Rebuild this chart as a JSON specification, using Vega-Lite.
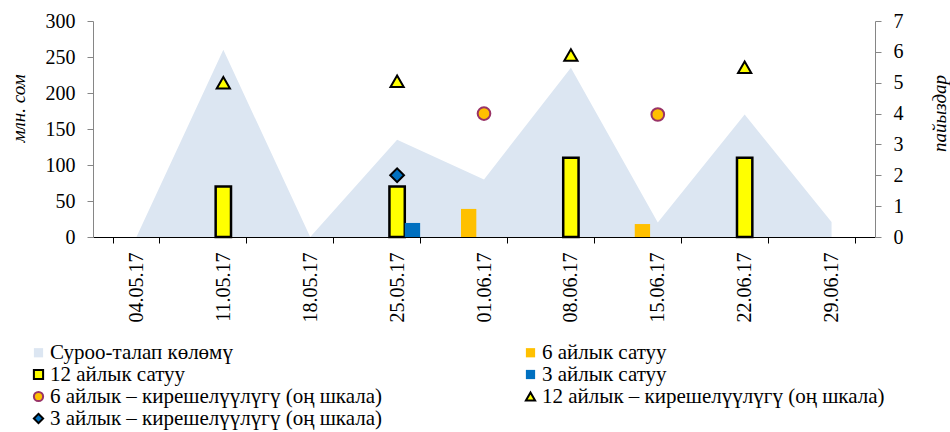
{
  "$schema": "https://vega.github.io/schema/vega-lite/v6.json",
  "width": 782,
  "height": 216,
  "autosize": {"type": "none"},
  "padding": {"left": 93, "top": 21, "right": 75, "bottom": 195},
  "config": {
    "font": "Liberation Serif",
    "view": {"stroke": null},
    "axis": {"grid": false, "labelColor": "#000000", "titleColor": "#000000", "labelFont": "Liberation Serif", "titleFont": "Liberation Serif"},
    "legend": {"labelFont": "Liberation Serif"}
  },
  "data": {
    "values": [
      {"date": "04.05.17", "series": "Суроо-талап көлөмү", "value": 0},
      {"date": "11.05.17", "series": "Суроо-талап көлөмү", "value": 260},
      {"date": "18.05.17", "series": "Суроо-талап көлөмү", "value": 0},
      {"date": "25.05.17", "series": "Суроо-талап көлөмү", "value": 135},
      {"date": "01.06.17", "series": "Суроо-талап көлөмү", "value": 80},
      {"date": "08.06.17", "series": "Суроо-талап көлөмү", "value": 235},
      {"date": "15.06.17", "series": "Суроо-талап көлөмү", "value": 20},
      {"date": "22.06.17", "series": "Суроо-талап көлөмү", "value": 170},
      {"date": "29.06.17", "series": "Суроо-талап көлөмү", "value": 21},
      {"date": "11.05.17", "series": "12 айлык сатуу", "value": 70},
      {"date": "25.05.17", "series": "12 айлык сатуу", "value": 70},
      {"date": "08.06.17", "series": "12 айлык сатуу", "value": 110},
      {"date": "22.06.17", "series": "12 айлык сатуу", "value": 110},
      {"date": "01.06.17", "series": "6 айлык сатуу", "value": 39},
      {"date": "15.06.17", "series": "6 айлык сатуу", "value": 18},
      {"date": "25.05.17", "series": "3 айлык сатуу", "value": 19.5},
      {"date": "11.05.17", "series": "12 айлык – кирешелүүлүгү (оң шкала)", "value": 5.0},
      {"date": "25.05.17", "series": "12 айлык – кирешелүүлүгү (оң шкала)", "value": 5.05},
      {"date": "08.06.17", "series": "12 айлык – кирешелүүлүгү (оң шкала)", "value": 5.9},
      {"date": "22.06.17", "series": "12 айлык – кирешелүүлүгү (оң шкала)", "value": 5.5},
      {"date": "01.06.17", "series": "6 айлык – кирешелүүлүгү (оң шкала)", "value": 4.0},
      {"date": "15.06.17", "series": "6 айлык – кирешелүүлүгү (оң шкала)", "value": 3.97},
      {"date": "25.05.17", "series": "3 айлык – кирешелүүлүгү (оң шкала)", "value": 2.0}
    ]
  },
  "encoding": {
    "x": {
      "field": "date",
      "type": "ordinal",
      "sort": null,
      "scale": {"paddingInner": 0.47, "paddingOuter": 0.235},
      "axis": {
        "title": null,
        "labelFont": "Liberation Serif",
        "labelAngle": -90,
        "labelAlign": "right",
        "labelBaseline": "middle",
        "labelFontSize": 20,
        "labelPadding": 9,
        "tickBand": "extent",
        "tickSize": 6,
        "tickColor": "#000000",
        "domainColor": "#000000",
        "domainWidth": 1
      }
    },
    "fill": {
      "field": "series",
      "type": "nominal",
      "scale": {
        "domain": ["Суроо-талап көлөмү", "12 айлык сатуу", "6 айлык – кирешелүүлүгү (оң шкала)", "3 айлык – кирешелүүлүгү (оң шкала)", "6 айлык сатуу", "3 айлык сатуу", "12 айлык – кирешелүүлүгү (оң шкала)"],
        "range": ["#DCE6F2", "#FFFF00", "#FFC000", "#0070C0", "#FFC000", "#0070C0", "#FFFF00"]
      },
      "legend": {
        "title": null,
        "orient": "none",
        "legendX": -65,
        "legendY": 321,
        "columns": 2,
        "columnPadding": 137,
        "rowPadding": 0,
        "labelFont": "Liberation Serif",
        "labelFontSize": 21,
        "labelLimit": 0,
        "labelOffset": 1,
        "symbolSize": 85,
        "symbolStrokeWidth": 2,
        "symbolOpacity": 1,
        "padding": 0
      }
    },
    "stroke": {
      "field": "series",
      "type": "nominal",
      "scale": {
        "domain": ["Суроо-талап көлөмү", "12 айлык сатуу", "6 айлык – кирешелүүлүгү (оң шкала)", "3 айлык – кирешелүүлүгү (оң шкала)", "6 айлык сатуу", "3 айлык сатуу", "12 айлык – кирешелүүлүгү (оң шкала)"],
        "range": ["transparent", "#000000", "#993366", "#000000", "transparent", "transparent", "#000000"]
      },
      "legend": {
        "title": null,
        "orient": "none",
        "legendX": -65,
        "legendY": 321,
        "columns": 2,
        "columnPadding": 137,
        "rowPadding": 0,
        "labelFont": "Liberation Serif",
        "labelFontSize": 21,
        "labelLimit": 0,
        "labelOffset": 1,
        "symbolSize": 85,
        "symbolStrokeWidth": 2,
        "symbolOpacity": 1,
        "padding": 0
      }
    }
  },
  "layer": [
    {
      "transform": [{"filter": "datum.series === 'Суроо-талап көлөмү'"}],
      "mark": {"type": "area", "opacity": 1, "strokeWidth": 0},
      "encoding": {
        "x": {"field": "date", "type": "ordinal", "sort": null, "bandPosition": 0.5},
        "y": {
          "field": "value",
          "type": "quantitative",
          "scale": {"domain": [0, 300], "nice": false},
          "axis": {
            "orient": "left",
            "values": [0, 50, 100, 150, 200, 250, 300],
            "title": "млн. сом",
            "labelFont": "Liberation Serif",
            "titleFont": "Liberation Serif",
            "titleFontStyle": "italic",
            "titleFontWeight": "normal",
            "titleFontSize": 19,
            "titleAngle": 270,
            "titleAlign": "center",
            "titleBaseline": "middle",
            "titleX": -75,
            "titleY": 87,
            "labelFontSize": 20,
            "labelPadding": 12,
            "tickSize": 6,
            "tickColor": "#868686",
            "domainColor": "#868686"
          }
        }
      }
    },
    {
      "transform": [{"filter": "indexof(datum.series, 'сатуу') >= 0"}],
      "mark": {"type": "bar", "strokeWidth": 2.5, "opacity": 1},
      "encoding": {
        "xOffset": {
          "field": "series",
          "type": "nominal",
          "scale": {"domain": ["6 айлык сатуу", "12 айлык сатуу", "3 айлык сатуу"], "paddingInner": 0, "paddingOuter": 0}
        },
        "y": {
          "field": "value",
          "type": "quantitative",
          "scale": {"domain": [0, 300], "nice": false},
          "axis": null
        }
      }
    },
    {
      "transform": [{"filter": "indexof(datum.series, 'кирешелүүлүгү') >= 0"}],
      "mark": {"type": "point", "filled": true, "opacity": 1, "strokeWidth": 2},
      "encoding": {
        "x": {"field": "date", "type": "ordinal", "sort": null, "bandPosition": 0.5},
        "y": {
          "field": "value",
          "type": "quantitative",
          "scale": {"domain": [0, 7], "nice": false},
          "axis": {
            "orient": "right",
            "values": [0, 1, 2, 3, 4, 5, 6, 7],
            "title": "пайыздар",
            "labelFont": "Liberation Serif",
            "titleFont": "Liberation Serif",
            "titleFontStyle": "italic",
            "titleFontWeight": "normal",
            "titleFontSize": 19,
            "titleAngle": 270,
            "titleAlign": "center",
            "titleBaseline": "middle",
            "titleX": 64,
            "titleY": 92,
            "labelFontSize": 20,
            "labelPadding": 12,
            "tickSize": 6,
            "tickColor": "#868686",
            "domainColor": "#868686"
          }
        },
        "shape": {
          "field": "series",
          "type": "nominal",
          "scale": {
            "domain": ["Суроо-талап көлөмү", "12 айлык сатуу", "6 айлык – кирешелүүлүгү (оң шкала)", "3 айлык – кирешелүүлүгү (оң шкала)", "6 айлык сатуу", "3 айлык сатуу", "12 айлык – кирешелүүлүгү (оң шкала)"],
            "range": ["square", "square", "circle", "diamond", "square", "square", "triangle-up"]
          },
          "legend": {
            "title": null,
            "orient": "none",
            "legendX": -65,
            "legendY": 321,
            "columns": 2,
            "columnPadding": 137,
            "rowPadding": 0,
            "labelFont": "Liberation Serif",
            "labelFontSize": 21,
            "labelLimit": 0,
            "labelOffset": 1,
            "symbolSize": 85,
            "symbolStrokeWidth": 2,
            "symbolOpacity": 1,
            "padding": 0
          }
        },
        "size": {
          "field": "series",
          "type": "nominal",
          "scale": {
            "domain": ["6 айлык – кирешелүүлүгү (оң шкала)", "12 айлык – кирешелүүлүгү (оң шкала)", "3 айлык – кирешелүүлүгү (оң шкала)"],
            "range": [160, 190, 260]
          },
          "legend": null
        }
      }
    }
  ],
  "resolve": {"scale": {"y": "independent"}}
}
